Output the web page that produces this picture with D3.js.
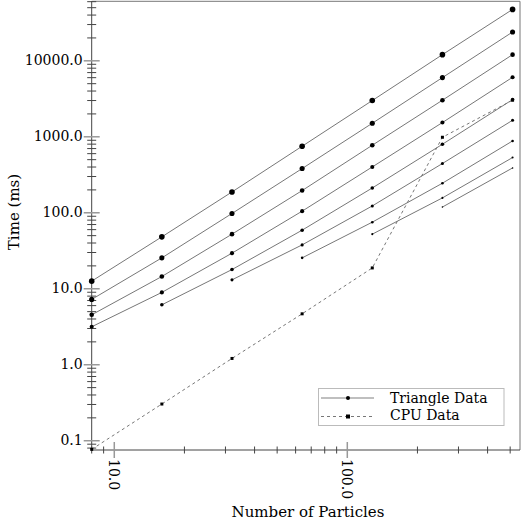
<!DOCTYPE html>
<html>
<head>
<meta charset="utf-8">
<script src="https://d3js.org/d3.v7.min.js"></script>
<style>
  body { margin: 0; background: #fff; }
  svg text { font-family: "DejaVu Serif", serif; fill: #000; }
</style>
</head>
<body>
<div id="chart"></div>
<script>
// number of particles (x)
var particles = [8, 16, 32, 64, 128, 256, 512];

// triangle runs, time in ms, null = not measured
var triangleSeries = [
  [12.6, 48.2, 188, 751, 3000, 12060, 47500],
  [7.24, 25.5, 97.9, 382, 1507, 6015, 23940],
  [4.54, 14.5, 52.3, 196, 774, 3030, 12060],
  [3.16, 8.95, 29.4, 105, 401, 1540, 6070],
  [null, 6.15, 17.9, 59, 212, 798, 3090],
  [null, null, 13.1, 37.8, 123, 445, 1650],
  [null, null, null, 25.5, 75.2, 245, 882],
  [null, null, null, null, 52.3, 157, 533],
  [null, null, null, null, null, 119, 389]
];

// cpu run, time in ms
var cpuData = [0.077, 0.304, 1.21, 4.68, 18.8, 986, 3030];

var yTickValues = [0.1, 1, 10, 100, 1000, 10000];
var xTickValues = [10, 100];
var legendNames = ["Triangle Data", "CPU Data"];

var W = 521, H = 521;
var mLeft = 91.7, mRight = 520, mTop = 1.3, mBottom = 450;

var svg = d3.select("#chart")
  .append("svg")
    .attr("width", W)
    .attr("height", H);

var x = d3.scaleLog()
    .domain([8, 551])
    .range([mLeft, mRight]);

var y = d3.scaleLog()
    .domain([0.0755, 60700])
    .range([mBottom, mTop]);

// minor ticks: 2..9 times each decade inside the domain
function minorTicks(scale) {
  var d = scale.domain(), out = [];
  for (var e = -2; e <= 5; e++) {
    for (var k = 2; k <= 9; k++) {
      var v = k * Math.pow(10, e);
      if (v >= d[0] && v <= d[1]) out.push(v);
    }
  }
  return out;
}

// frame (top and right)
svg.append("line")
  .attr("x1", mLeft).attr("x2", mRight)
  .attr("y1", mTop).attr("y2", mTop)
  .attr("stroke", "#777").attr("stroke-width", 1);
svg.append("line")
  .attr("x1", mRight).attr("x2", mRight)
  .attr("y1", mTop).attr("y2", mBottom)
  .attr("stroke", "#777").attr("stroke-width", 1);

// y axis
svg.append("line")
  .attr("x1", mLeft).attr("x2", mLeft)
  .attr("y1", mTop).attr("y2", mBottom)
  .attr("stroke", "#444").attr("stroke-width", 1);

svg.selectAll(".yminor")
  .data(minorTicks(y))
  .enter()
  .append("line")
    .attr("x1", mLeft - 4.5).attr("x2", mLeft + 4.5)
    .attr("y1", function(d) { return y(d); })
    .attr("y2", function(d) { return y(d); })
    .attr("stroke", "#444").attr("stroke-width", 1);

svg.selectAll(".ymajor")
  .data(yTickValues)
  .enter()
  .append("line")
    .attr("x1", mLeft - 8).attr("x2", mLeft + 8)
    .attr("y1", function(d) { return y(d); })
    .attr("y2", function(d) { return y(d); })
    .attr("stroke", "#999").attr("stroke-width", 1.5);

svg.selectAll(".ylabel")
  .data(yTickValues)
  .enter()
  .append("text")
    .attr("x", mLeft - 9)
    .attr("y", function(d) { return y(d); })
    .attr("dy", "0.3em")
    .style("text-anchor", "end")
    .style("font-size", "14px")
    .text(function(d) { return d.toFixed(1); });

// x axis
svg.append("line")
  .attr("x1", mLeft).attr("x2", mRight)
  .attr("y1", mBottom).attr("y2", mBottom)
  .attr("stroke", "#444").attr("stroke-width", 1);

svg.selectAll(".xminor")
  .data(minorTicks(x))
  .enter()
  .append("line")
    .attr("x1", function(d) { return x(d); })
    .attr("x2", function(d) { return x(d); })
    .attr("y1", mBottom - 3.5).attr("y2", mBottom + 3.5)
    .attr("stroke", "#444").attr("stroke-width", 1);

svg.selectAll(".xmajor")
  .data(xTickValues)
  .enter()
  .append("line")
    .attr("x1", function(d) { return x(d); })
    .attr("x2", function(d) { return x(d); })
    .attr("y1", mBottom - 8).attr("y2", mBottom + 8)
    .attr("stroke", "#999").attr("stroke-width", 1.5);

svg.selectAll(".xlabel")
  .data(xTickValues)
  .enter()
  .append("text")
    .attr("transform", function(d) { return "translate(" + x(d) + "," + (mBottom + 9) + ") rotate(90)"; })
    .attr("dy", "0.35em")
    .style("text-anchor", "start")
    .style("font-size", "14px")
    .text(function(d) { return d.toFixed(1); });

// axis titles
svg.append("text")
  .attr("x", 308)
  .attr("y", 516.5)
  .style("text-anchor", "middle")
  .style("font-size", "15px")
  .text("Number of Particles");

svg.append("text")
  .attr("transform", "translate(19,212) rotate(-90)")
  .style("text-anchor", "middle")
  .style("font-size", "15px")
  .text("Time (ms)");

// lines
var line = d3.line()
  .defined(function(d) { return d.t != null; })
  .x(function(d) { return x(d.n); })
  .y(function(d) { return y(d.t); });

var tri = triangleSeries.map(function(s, i) {
  return { idx: i, values: s.map(function(t, j) { return { n: particles[j], t: t }; }) };
});
var cpu = cpuData.map(function(t, j) { return { n: particles[j], t: t }; });

var plot = svg.append("g");

plot.append("path")
  .attr("d", line(cpu))
  .attr("fill", "none")
  .attr("stroke", "#777")
  .attr("stroke-width", 1)
  .attr("stroke-dasharray", "3,3");

plot.selectAll(".tri")
  .data(tri)
  .enter()
  .append("path")
    .attr("d", function(d) { return line(d.values); })
    .attr("fill", "none")
    .attr("stroke", "#777")
    .attr("stroke-width", 1);

plot.selectAll(".cpudot")
  .data(cpu)
  .enter()
  .append("rect")
    .attr("x", function(d) { return x(d.n) - 1.5; })
    .attr("y", function(d) { return y(d.t) - 1.5; })
    .attr("width", 3).attr("height", 3)
    .attr("fill", "#000");

plot.selectAll(".tridots")
  .data(tri)
  .enter()
  .append("g")
  .selectAll("circle")
  .data(function(d) {
    return d.values.filter(function(v) { return v.t != null; })
      .map(function(v) { return { n: v.n, t: v.t, idx: d.idx }; });
  })
  .enter()
  .append("circle")
    .attr("cx", function(d) { return x(d.n); })
    .attr("cy", function(d) { return y(d.t); })
    .attr("r", function(d) { return 2.8 - 0.25 * d.idx; })
    .attr("fill", "#000");

// legend
var lg = svg.append("g");
lg.append("rect")
  .attr("x", 318.5).attr("y", 388.5)
  .attr("width", 185.5).attr("height", 37)
  .attr("fill", "#fff")
  .attr("stroke", "#bbb").attr("stroke-width", 1);

lg.append("line")
  .attr("x1", 321).attr("x2", 374).attr("y1", 398).attr("y2", 398)
  .attr("stroke", "#aaa").attr("stroke-width", 1.5);
lg.append("circle")
  .attr("cx", 348).attr("cy", 398).attr("r", 2)
  .attr("fill", "#000");
lg.append("line")
  .attr("x1", 321).attr("x2", 374).attr("y1", 416.5).attr("y2", 416.5)
  .attr("stroke", "#777").attr("stroke-width", 1)
  .attr("stroke-dasharray", "3,3");
lg.append("rect")
  .attr("x", 346).attr("y", 414.5).attr("width", 4).attr("height", 4)
  .attr("fill", "#000");

lg.selectAll(".lgtext")
  .data(legendNames)
  .enter()
  .append("text")
    .attr("x", 390)
    .attr("y", function(d, i) { return 403 + i * 17; })
    .style("font-size", "14px")
    .text(function(d) { return d; });
</script>
</body>
</html>
